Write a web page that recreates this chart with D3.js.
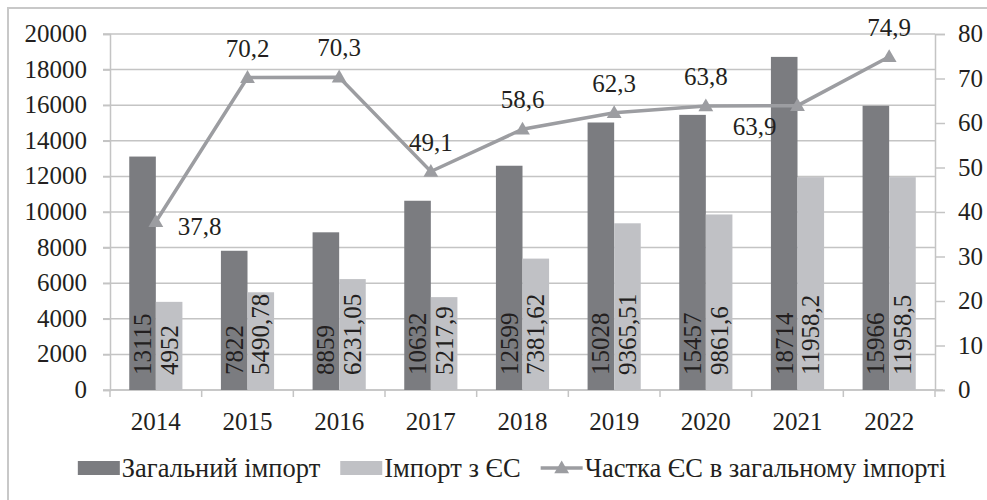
<!DOCTYPE html>
<html>
<head>
<meta charset="utf-8">
<script src="https://cdn.jsdelivr.net/npm/d3@7"></script>
<style>
  svg text { font-family: "Liberation Serif", "Times New Roman" !important; }
</style>
</head>
<body style="margin:0">
<script>
// data
var years = ["2014", "2015", "2016", "2017", "2018", "2019", "2020", "2021", "2022"];
var totalImport = [13115, 7822, 8859, 10632, 12599, 15028, 15457, 18714, 15966];
var euImport = [4952, 5490.78, 6231.05, 5217.9, 7381.62, 9365.51, 9861.6, 11958.2, 11958.5];
var euShare = [37.8, 70.2, 70.3, 49.1, 58.6, 62.3, 63.8, 63.9, 74.9];
var leftTicks = [0, 2000, 4000, 6000, 8000, 10000, 12000, 14000, 16000, 18000, 20000];
var rightTicks = [0, 10, 20, 30, 40, 50, 60, 70, 80];
var legendNames = ["Загальний імпорт", "Імпорт з ЄС", "Частка  ЄС в загальному імпорті"];

var svgWidth = 987;
var svgHeight = 500;
var margin = { top: 34, right: 52, bottom: 110, left: 110 };
var chart_width = svgWidth - margin.left - margin.right;
var chart_height = svgHeight - margin.top - margin.bottom;

var darkColor = "#7b7c80";
var lightColor = "#c0c1c5";
var lineColor = "#9c9da1";
var gridColor = "#c4c4c4";
var textColor = "#231f20";

function fmt(v) {
    return String(v).replace(".", ",");
}

// serif face set every way so nothing overrides it
function styleText(sel, size) {
    return sel.attr("font-family", "Liberation Serif")
        .attr("font-size", size || 25)
        .attr("fill", textColor)
        .style("font-family", "'Liberation Serif', 'Times New Roman'");
}

var svg = d3.select("body")
    .append("svg")
    .attr("width", svgWidth)
    .attr("height", svgHeight)
    .attr("font-family", "Liberation Serif");

// outer frame
svg.append("rect")
    .attr("x", 8)
    .attr("y", 8)
    .attr("width", svgWidth)
    .attr("height", svgHeight)
    .attr("fill", "none")
    .attr("stroke", "#c8c8c8")
    .attr("stroke-width", 2);

var chartGroup = svg.append("g")
    .attr("transform", `translate(${margin.left}, ${margin.top})`);

// scales
var xScale = d3.scaleBand()
    .domain(years)
    .range([0, chart_width])
    .paddingInner(0.42)
    .paddingOuter(0.21);

var xCat = d3.scaleBand().domain(years).range([0, chart_width]);

var xSub = d3.scaleBand()
    .domain(["total", "eu"])
    .range([0, xScale.bandwidth()]);

var yLeft = d3.scaleLinear().domain([0, 20000]).range([chart_height, 0]);
var yRight = d3.scaleLinear().domain([0, 80]).range([chart_height, 0]);

// gridlines
chartGroup.append("g")
    .selectAll("line")
    .data(leftTicks)
    .enter()
    .append("line")
    .attr("x1", -7)
    .attr("x2", chart_width)
    .attr("y1", d => yLeft(d))
    .attr("y2", d => yLeft(d))
    .attr("stroke", gridColor)
    .attr("stroke-width", 1.5);

// left axis
var leftAxis = d3.axisLeft(yLeft).tickValues(leftTicks).tickFormat(d3.format("d")).tickSize(7).tickPadding(16);
var yAxisL = chartGroup.append("g").call(leftAxis).attr("font-family", "Liberation Serif");
yAxisL.select(".domain").attr("stroke", gridColor).attr("stroke-width", 1.5);
yAxisL.selectAll(".tick line").attr("stroke", gridColor).attr("stroke-width", 1.5);
styleText(yAxisL.selectAll(".tick text")).attr("dy", "0.3em");

// right axis
var rightAxis = d3.axisRight(yRight).tickValues(rightTicks).tickSize(10).tickPadding(13);
var yAxisR = chartGroup.append("g")
    .attr("transform", `translate(${chart_width}, 0)`)
    .call(rightAxis)
    .attr("font-family", "Liberation Serif");
yAxisR.select(".domain").attr("stroke", gridColor).attr("stroke-width", 1.5);
yAxisR.selectAll(".tick line").attr("stroke", gridColor).attr("stroke-width", 1.5);
styleText(yAxisR.selectAll(".tick text")).attr("dy", "0.3em");

// bottom axis with ticks between categories
var xAxis = chartGroup.append("g")
    .attr("transform", `translate(0, ${chart_height})`);
xAxis.append("line")
    .attr("x1", 0)
    .attr("x2", chart_width + 8)
    .attr("stroke", gridColor)
    .attr("stroke-width", 1.5);
xAxis.selectAll(".sep")
    .data(years.concat(["end"]))
    .enter()
    .append("line")
    .attr("class", "sep")
    .attr("x1", (d, i) => i < years.length ? xCat(d) : chart_width)
    .attr("x2", (d, i) => i < years.length ? xCat(d) : chart_width)
    .attr("y1", 0)
    .attr("y2", 7)
    .attr("stroke", gridColor)
    .attr("stroke-width", 1.5);
styleText(xAxis.selectAll(".lbl")
    .data(years)
    .enter()
    .append("text")
    .attr("class", "lbl")
    .attr("x", d => xCat(d) + xCat.bandwidth() / 2)
    .attr("y", 40)
    .attr("text-anchor", "middle")
    .text(d => d));

// bars
var bars = chartGroup.append("g");
years.forEach(function(yr, i) {
    var g = bars.append("g").attr("transform", `translate(${xScale(yr)}, 0)`);
    [["total", totalImport[i], darkColor], ["eu", euImport[i], lightColor]].forEach(function(b) {
        g.append("rect")
            .attr("x", xSub(b[0]))
            .attr("y", yLeft(b[1]))
            .attr("width", xSub.bandwidth())
            .attr("height", chart_height - yLeft(b[1]))
            .attr("fill", b[2]);
        var cx = xSub(b[0]) + xSub.bandwidth() / 2 + 8.5;
        styleText(g.append("text")
            .attr("transform", `translate(${cx}, ${chart_height - 15}) rotate(-90)`)
            .text(fmt(b[1])));
    });
});

// share line
var lineX = d => xCat(d) + xCat.bandwidth() / 2;
var line = d3.line()
    .x((d, i) => lineX(years[i]))
    .y(d => yRight(d));

chartGroup.append("path")
    .datum(euShare)
    .attr("d", line)
    .attr("fill", "none")
    .attr("stroke", lineColor)
    .attr("stroke-width", 3.5);

chartGroup.append("g")
    .selectAll("path")
    .data(euShare)
    .enter()
    .append("path")
    .attr("d", d3.symbol().type(d3.symbolTriangle).size(95))
    .attr("transform", (d, i) => `translate(${lineX(years[i])}, ${yRight(d) + 1})`)
    .attr("fill", lineColor);

// share labels: mostly above, first to the right, 2021 below-left
var labelPos = ["right", "above", "above", "above", "above", "above", "above", "belowleft", "above"];
styleText(chartGroup.append("g")
    .selectAll("text")
    .data(euShare)
    .enter()
    .append("text")
    .attr("x", (d, i) => {
        var x = lineX(years[i]);
        if (labelPos[i] == "right") return x + 22;
        if (labelPos[i] == "belowleft") return x - 21;
        return x;
    })
    .attr("y", (d, i) => {
        var y = yRight(d);
        if (labelPos[i] == "right") return y + 13;
        if (labelPos[i] == "belowleft") return y + 29;
        return y - 21;
    })
    .attr("text-anchor", (d, i) => labelPos[i] == "right" ? "start" : (labelPos[i] == "belowleft" ? "end" : "middle"))
    .text(d => fmt(d)));

// legend, centred under the plot
var legend = svg.append("g").attr("transform", "translate(0, 468)");
var lx = 0;
legendNames.forEach(function(name, i) {
    if (i < 2) {
        legend.append("rect")
            .attr("x", lx)
            .attr("y", -7)
            .attr("width", 42)
            .attr("height", 14)
            .attr("fill", i == 0 ? darkColor : lightColor);
    } else {
        legend.append("line")
            .attr("x1", lx)
            .attr("x2", lx + 42)
            .attr("stroke", lineColor)
            .attr("stroke-width", 3.5);
        legend.append("path")
            .attr("d", d3.symbol().type(d3.symbolTriangle).size(95))
            .attr("transform", `translate(${lx + 21}, 1)`)
            .attr("fill", lineColor);
    }
    var t = styleText(legend.append("text")
        .attr("x", lx + 44)
        .attr("y", 9)
        .text(name), 26.5);
    lx += 44 + t.node().getComputedTextLength() + 20;
});
lx -= 20;
legend.attr("transform", `translate(${512 - lx / 2}, 468)`);
</script>
</body>
</html>
